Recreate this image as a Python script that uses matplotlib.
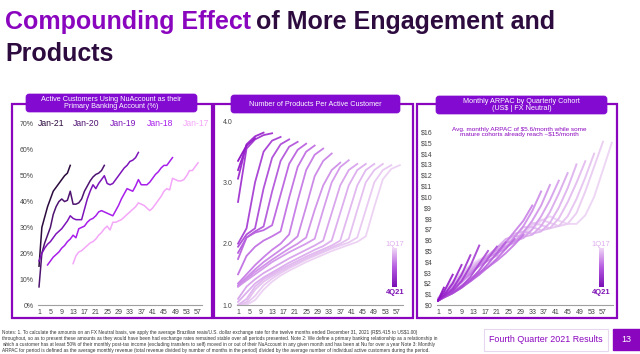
import matplotlib
matplotlib.use('Agg')
import numpy as np
import matplotlib.pyplot as plt
from matplotlib.patches import Rectangle, FancyBboxPatch
from matplotlib.colors import LinearSegmentedColormap

plt.rcParams['font.family'] = ['Liberation Sans', 'DejaVu Sans']

PURPLE = '#8A05BE'
DARK = '#2D0B3F'
GREY = '#444444'

# ---- panel 1: primary banking account (% of active customers), yearly cohorts
year_cohorts = ['Jan-21', 'Jan-20', 'Jan-19', 'Jan-18', 'Jan-17']
year_colors = ['#2B0A3D', '#4E1270', '#7D14BA', '#A81EEA', '#F4A6F8']
first_month = [1, 1, 1, 4, 13]
jan21 = [15, 30, 34, 38, 41, 44, 45.5, 47, 48.5, 50, 51, 54]
jan20 = [7, 20, 24, 27, 30, 35, 38, 40, 41, 40, 40.5, 44, 39, 39, 39.5, 41, 44, 46, 48, 49.5,
         50.5, 51, 52, 54]
jan19 = [17, 20, 22, 23.5, 24.5, 26, 27.5, 28.5, 29.5, 31, 32.5, 34.5, 33.5, 33, 33, 33, 37, 41,
         44, 46.5, 45, 47, 48.5, 50, 47, 46.5, 47, 48.5, 50, 51.5, 53, 54, 55.5, 56, 57, 59]
jan18 = [15.5, 17, 18.5, 19.5, 20.5, 22, 23, 24.5, 25.5, 27, 26, 29.5, 30, 30.5, 32, 33, 33.5,
         34.5, 36, 36.5, 36, 35.5, 35, 34.5, 36.5, 38.5, 41, 43, 45, 44.5, 44, 46, 48.5, 46.5,
         46.5, 46.5, 47.5, 49, 50.5, 51.5, 53, 54, 54, 55.5, 57]
jan17 = [16, 19, 20.5, 21, 22, 23, 24, 24.5, 25.5, 27, 28, 29.5, 30.5, 29, 32, 32, 32.5, 33, 34,
         35, 36, 37, 38, 39.5, 39, 38.5, 37.5, 36.5, 37.5, 39, 40.5, 42, 44, 45, 44.5, 49, 48.5,
         48, 48, 48.5, 50, 52, 52, 53.5, 55]
primary_pct = [jan21, jan20, jan19, jan18, jan17]

# ---- quarterly cohorts used by panels 2 and 3
quarters = ['1Q17', '2Q17', '3Q17', '4Q17', '1Q18', '2Q18', '3Q18', '4Q18', '1Q19', '2Q19',
            '3Q19', '4Q19', '1Q20', '2Q20', '3Q20', '4Q20', '1Q21', '2Q21', '3Q21', '4Q21']

# panel 2: products per active customer, one value every 3 months of age (1, 4, 7, ...)
products = [
    [1.0, 1.0, 1.08, 1.25, 1.38, 1.48, 1.56, 1.63, 1.7, 1.76, 1.82, 1.88, 1.93, 1.98, 2.03, 2.12, 2.6, 3.05, 3.22, 3.28],
    [1.0, 1.02, 1.15, 1.32, 1.43, 1.52, 1.6, 1.67, 1.74, 1.8, 1.86, 1.92, 1.97, 2.02, 2.1, 2.55, 3.0, 3.2, 3.28],
    [1.0, 1.05, 1.25, 1.38, 1.47, 1.55, 1.62, 1.69, 1.76, 1.82, 1.88, 1.94, 2.0, 2.08, 2.55, 3.0, 3.2, 3.3],
    [1.0, 1.1, 1.3, 1.42, 1.5, 1.58, 1.65, 1.72, 1.79, 1.85, 1.91, 1.97, 2.05, 2.5, 2.95, 3.2, 3.3],
    [1.05, 1.2, 1.35, 1.45, 1.53, 1.61, 1.69, 1.76, 1.83, 1.9, 1.96, 2.05, 2.5, 2.95, 3.2, 3.3],
    [1.1, 1.3, 1.42, 1.52, 1.6, 1.68, 1.76, 1.83, 1.9, 1.97, 2.05, 2.5, 2.95, 3.2, 3.3],
    [1.3, 1.4, 1.5, 1.6, 1.7, 1.78, 1.86, 1.93, 2.0, 2.08, 2.55, 3.0, 3.25, 3.36],
    [1.3, 1.42, 1.54, 1.64, 1.74, 1.83, 1.92, 2.0, 2.1, 2.55, 2.95, 3.2, 3.32],
    [1.32, 1.45, 1.58, 1.7, 1.8, 1.9, 2.0, 2.12, 2.6, 3.1, 3.35, 3.47],
    [1.35, 1.5, 1.65, 1.78, 1.9, 2.0, 2.15, 2.7, 3.2, 3.45, 3.55],
    [1.5, 1.8, 1.95, 2.05, 2.12, 2.2, 2.75, 3.25, 3.5, 3.6],
    [1.75, 2.1, 2.18, 2.22, 2.3, 2.8, 3.3, 3.53, 3.63],
    [1.85, 2.1, 2.2, 2.28, 2.85, 3.35, 3.58, 3.66],
    [1.95, 2.15, 2.25, 2.9, 3.4, 3.62, 3.7],
    [2.0, 2.25, 3.0, 3.5, 3.68, 3.74],
    [2.68, 3.55, 3.7, 3.77, 3.8],
    [3.06, 3.62, 3.75, 3.81],
    [3.2, 3.6, 3.72],
    [3.35, 3.6],
    [3.4],
]

# panel 3: monthly ARPAC (US$), values at age 1 month then every 3 months (3, 6, 9, ...)
arpac = [
    [0.6, 1.3, 2.2, 3.0, 3.7, 4.2, 4.6, 5.0, 5.4, 5.8, 6.3, 7.0, 7.8, 8.2, 7.8, 7.5, 7.5, 8.3, 10.0, 12.5, 15.0],
    [0.6, 1.3, 2.1, 2.9, 3.6, 4.1, 4.5, 4.9, 5.3, 5.8, 6.5, 7.4, 7.9, 7.6, 7.3, 7.5, 8.5, 10.5, 12.8, 15.1],
    [0.6, 1.2, 2.0, 2.8, 3.5, 4.0, 4.5, 4.9, 5.4, 6.0, 6.8, 7.6, 7.4, 7.1, 7.3, 8.2, 9.8, 11.8, 14.0],
    [0.6, 1.2, 2.0, 2.7, 3.4, 4.0, 4.5, 5.0, 5.6, 6.3, 7.2, 7.2, 6.9, 7.1, 8.0, 9.5, 11.3, 13.3],
    [0.5, 1.1, 1.9, 2.6, 3.3, 3.9, 4.5, 5.1, 5.8, 6.6, 6.8, 6.6, 6.8, 7.6, 9.0, 10.8, 13.0],
    [0.5, 1.1, 1.8, 2.5, 3.2, 3.9, 4.6, 5.3, 6.1, 6.4, 6.3, 6.5, 7.3, 8.6, 10.3, 12.2],
    [0.5, 1.0, 1.7, 2.4, 3.1, 3.8, 4.5, 5.3, 5.8, 5.9, 6.2, 7.0, 8.2, 9.7, 11.5],
    [0.5, 1.0, 1.6, 2.3, 3.0, 3.7, 4.5, 5.1, 5.4, 5.8, 6.7, 7.8, 9.2, 11.1],
    [0.5, 1.0, 1.6, 2.2, 2.9, 3.7, 4.4, 4.8, 5.2, 6.3, 7.3, 8.7, 10.5],
    [0.5, 0.9, 1.5, 2.1, 2.9, 3.6, 4.1, 4.6, 5.8, 6.8, 7.8, 9.2],
    [0.4, 0.8, 1.3, 1.8, 2.4, 3.0, 3.5, 4.1, 4.8, 5.6, 6.5],
    [0.4, 0.8, 1.2, 1.7, 2.2, 2.8, 3.5, 4.3, 5.2, 6.1],
    [0.4, 0.7, 1.1, 1.6, 2.2, 2.9, 3.8, 4.8, 5.8],
    [0.4, 0.7, 1.1, 1.6, 2.3, 3.2, 4.3, 5.4],
    [0.4, 0.7, 1.1, 1.7, 2.6, 3.8, 5.0],
    [0.4, 0.8, 1.3, 2.2, 3.6, 5.5],
    [0.4, 0.8, 1.5, 2.8, 4.6],
    [0.4, 0.9, 2.0, 3.7],
    [0.4, 1.2, 2.8],
    [0.4, 1.6],
]

month_ticks = list(range(1, 58, 4))

notes = ("Notes: 1. To calculate the amounts on an FX Neutral basis, we apply the average Brazilian reais/U.S. dollar exchange rate for the twelve months ended December 31, 2021 (R\\$5.415 to US\\$1.00)\n"
         "throughout, so as to present these amounts as they would have been had exchange rates remained stable over all periods presented. Note 2: We define a primary banking relationship as a relationship in\n"
         "which a customer has at least 50% of their monthly post-tax income (excluding transfers to self) moved in or out of their NuAccount in any given month and has been at Nu for over a year Note 3: Monthly\n"
         "ARPAC for period is defined as the average monthly revenue (total revenue divided by number of months in the period) divided by the average number of individual active customers during the period.")

W, H = 640, 354
fig = plt.figure(figsize=(W / 100, H / 100), dpi=100)
fig.patch.set_facecolor('white')

# background layer in pixel coordinates for frames, headers and titles
bg = fig.add_axes([0, 0, 1, 1], zorder=0)
bg.set_xlim(0, W)
bg.set_ylim(H, 0)
bg.axis('off')


def px_axes(x0, y0, x1, y1):
    return fig.add_axes([x0 / W, 1 - y1 / H, (x1 - x0) / W, (y1 - y0) / H], zorder=2)


# title, two colours on the first line
t1 = bg.text(5, 29, 'Compounding Effect', color=PURPLE, fontsize=18, fontweight='bold')
fig.canvas.draw()
bb = t1.get_window_extent()
x_end = bg.transData.inverted().transform((bb.x1, bb.y0))[0]
bg.text(x_end + 5, 29, 'of More Engagement and', color=DARK, fontsize=18, fontweight='bold')
bg.text(5, 61, 'Products', color=DARK, fontsize=18, fontweight='bold')

# panel frames and header boxes
frames = [(12, 104, 212, 318), (214, 104, 413, 318), (417, 104, 617, 318)]
headers = [(26, 94, 197, 112), (231, 95, 400, 113), (436, 96, 607, 114)]
header_txt = ['Active Customers Using NuAccount as their\nPrimary Banking Account (%)',
              'Number of Products Per Active Customer',
              'Monthly ARPAC by Quarterly Cohort\n(US\\$ | FX Neutral)']
for (x0, y0, x1, y1) in frames:
    bg.add_patch(Rectangle((x0, y0), x1 - x0, y1 - y0, fill=False, ec=PURPLE, lw=1.6))
for (x0, y0, x1, y1), txt in zip(headers, header_txt):
    bg.add_patch(FancyBboxPatch((x0, y0), x1 - x0, y1 - y0,
                                boxstyle='round,pad=0,rounding_size=3',
                                fc='#820AD1', ec='#820AD1', lw=0.5))
    bg.text((x0 + x1) / 2, (y0 + y1) / 2, txt, color='white', fontsize=5.2,
            ha='center', va='center', linespacing=1.05)

# footer
bg.text(2, 330, notes, fontsize=3.4, color='#333333', va='top', linespacing=1.25)
bg.add_patch(Rectangle((484, 329), 124, 22, fill=False, ec='#E6D6EE', lw=0.8))
bg.text(489, 340, 'Fourth Quarter 2021 Results', color=PURPLE, fontsize=6.4, va='center')
bg.add_patch(Rectangle((613, 329), 27, 21, fc=PURPLE, ec=PURPLE))
bg.text(626, 340, '13', color='white', fontsize=6.5, ha='center', va='center')


def style(ax):
    for s in ['top', 'right', 'left']:
        ax.spines[s].set_visible(False)
    ax.spines['bottom'].set_color('#A0A0A0')
    ax.spines['bottom'].set_linewidth(0.8)
    ax.tick_params(length=0, labelsize=5, colors=GREY, pad=3)
    ax.set_xticks(month_ticks)
    ax.patch.set_alpha(0)


# ---- panel 1
ax1 = px_axes(37.6, 124, 202.3, 305)
for vals, start, col in zip(primary_pct, first_month, year_colors):
    months = np.arange(start, start + len(vals))
    ax1.plot(months, vals, color=col, lw=1.1, solid_joinstyle='round')
ax1.set_xlim(0.5, 58.5)
ax1.set_ylim(0, 70)
ax1.set_yticks(range(0, 71, 10))
ax1.set_yticklabels([f'{v}%' for v in range(0, 71, 10)])
style(ax1)
for name, col, xm in zip(year_cohorts, year_colors, [0.7, 13, 26, 39, 51.7]):
    ax1.text(xm, 70, name, color=col, fontsize=6.2, va='center', ha='left')

# colour ramp for the quarterly cohorts
ramp = LinearSegmentedColormap.from_list('ramp', ['#EDD3F3', '#C77DE6', '#8C0FC4'])
bar_cmap = LinearSegmentedColormap.from_list('bar', ['#EFD6F5', '#B55AE0', '#7A0FB5'])


def cohort_key(bar_x, txt_x):
    cax = px_axes(bar_x, 248, bar_x + 5, 287)
    cax.imshow(np.linspace(0, 1, 100).reshape(-1, 1), cmap=bar_cmap, aspect='auto')
    cax.axis('off')
    bg.text(txt_x, 244, '1Q17', color='#E0AEF0', fontsize=5.5, ha='center', va='center')
    bg.text(txt_x, 293, '4Q21', color='#7E12B5', fontsize=5.5, ha='center', va='center',
            fontweight='bold')


# ---- panel 2
ax2 = px_axes(236.6, 121, 402.7, 305)
n = len(quarters)
for c, vals in enumerate(products):
    months = 1 + 3 * np.arange(len(vals))
    ax2.plot(months, vals, color=ramp(c / (n - 1)), lw=1.3, solid_joinstyle='round')
ax2.set_xlim(0.5, 59)
ax2.set_ylim(1, 4)
ax2.set_yticks([1, 2, 3, 4])
ax2.set_yticklabels(['1.0', '2.0', '3.0', '4.0'])
style(ax2)
cohort_key(392, 395)

# ---- panel 3
ax3 = px_axes(436.5, 132, 613.3, 305)
for c, vals in enumerate(arpac):
    months = [1] + list(3 * np.arange(1, len(vals)))
    ax3.plot(months, vals, color=ramp(c / (n - 1)), lw=1.4, alpha=0.9, solid_joinstyle='round')
ax3.set_xlim(0.5, 60.5)
ax3.set_ylim(0, 16)
ax3.set_yticks(range(0, 17))
ax3.set_yticklabels([f'\\${v}' for v in range(0, 17)])
style(ax3)
bg.text(519, 132, 'Avg. monthly ARPAC of \\$5.6/month while some\nmature cohorts already reach ~\\$15/month',
        color=PURPLE, fontsize=4.6, ha='center', va='center', linespacing=1.2)
cohort_key(599, 601)

fig.savefig('out.png', dpi=100)
